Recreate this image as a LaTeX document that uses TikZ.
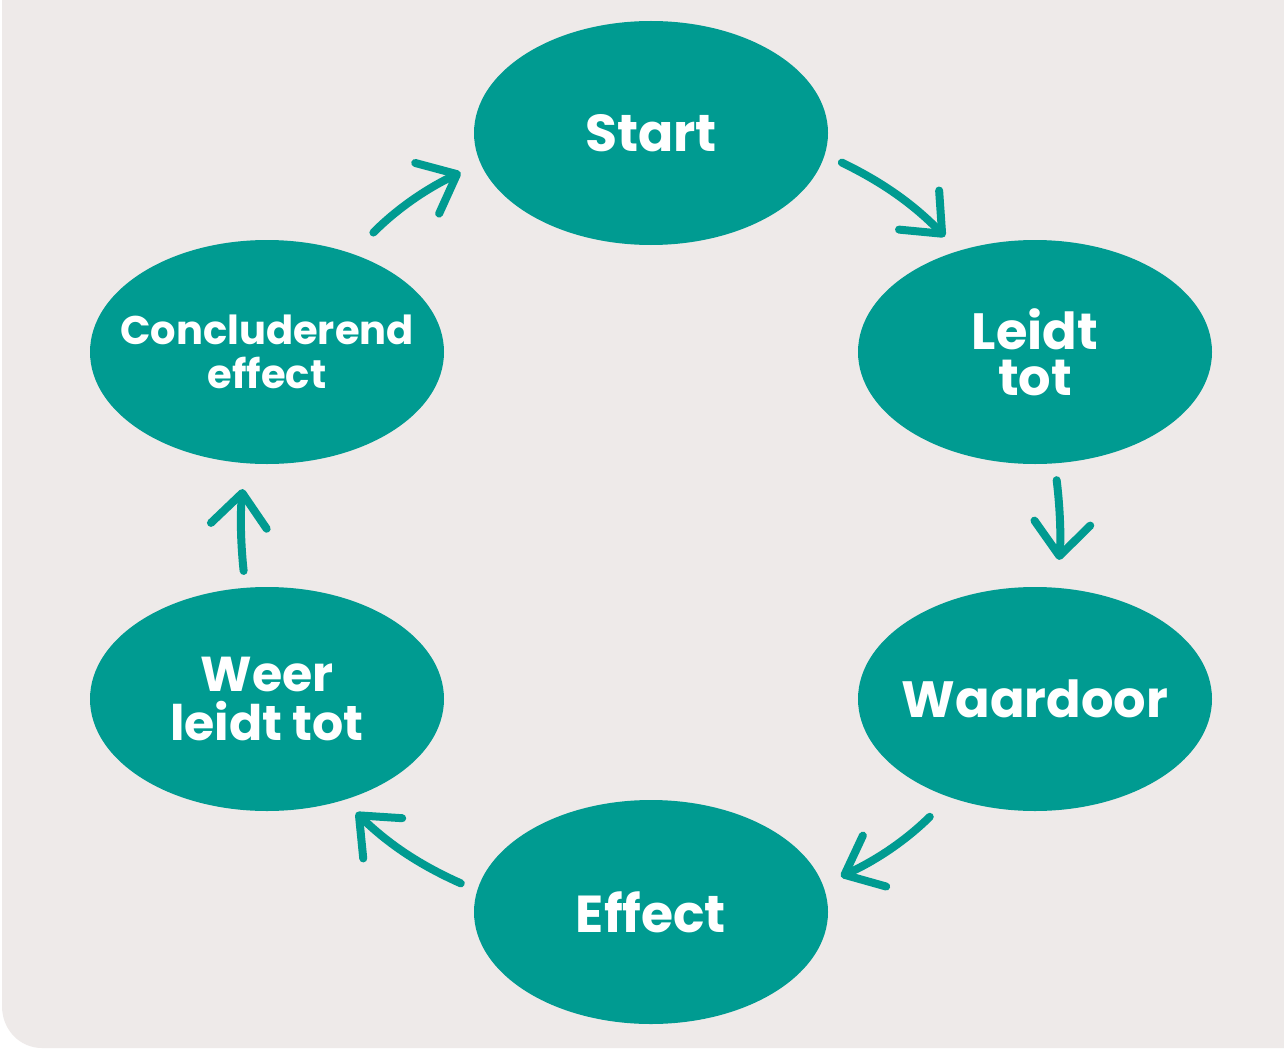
\documentclass[tikz,border=0pt]{standalone}
\usepackage{xcolor}
\usepackage{fontspec}
\setmainfont{Poppins}
\usepackage{tikz}
\usetikzlibrary{shapes,arrows.meta,positioning}

\definecolor{tealc}{HTML}{009B91}
\definecolor{paper}{HTML}{EEEAE9}

\tikzset{
  stage/.style={ellipse, fill=tealc, minimum width=354pt, minimum height=224pt,
    inner xsep=-60pt, inner ysep=0pt, outer sep=0pt, text=white, align=center, font=\bfseries},
  flow/.style={draw=tealc, line width=8pt, line cap=round,
    -{Straight Barb[length=33pt,width=56pt,line cap=round,line join=round]}}
}

\begin{document}
\begin{tikzpicture}[x=1pt,y=-1pt]
\useasboundingbox (0,0) rectangle (1284,1051);
% background card
\fill[white] (0,0) rectangle (1284,1051);
\fill[paper] (2,0) -- (1284,0) -- (1284,1048) -- (42,1048)
  .. controls (20,1048) and (2,1030) .. (2,1006) -- cycle;

% cycle stages
\node[stage, font=\bfseries\fontsize{52}{50}\selectfont] (start) at (651,133) {Start};
\node[stage, font=\bfseries\fontsize{51}{46}\selectfont] (leidt) at (1035,352) {Leidt\\tot};
\node[stage, font=\bfseries\fontsize{51}{48}\selectfont] (waar) at (1035,699) {Waardoor};
\node[stage, font=\bfseries\fontsize{52}{50}\selectfont] (effect) at (651,912) {Effect};
\node[stage, font=\bfseries\fontsize{49}{49}\selectfont] (weer) at (267,699) {Weer\\leidt tot};
\node[stage, font=\bfseries\fontsize{40}{44}\selectfont] (concl) at (267,352) {Concluderend\\effect};

% arrows
\draw[flow, shorten <=30pt, shorten >=22pt] (concl.49) to[bend left=10] (start.190);
\draw[flow, shorten <=19pt, shorten >=20pt] (start.353) to[bend left=10] (leidt.127);
\draw[flow, shorten <=17pt, shorten >=28pt] (leidt.280) to[bend left=6] (waar.79);
\draw[flow, shorten <=28pt, shorten >=20pt] (waar.229) to[bend left=10] (effect.9);
\draw[flow, shorten <=18pt, shorten >=18pt] (effect.173) to[bend left=10] (weer.307);
\draw[flow, shorten <=17pt, shorten >=26pt] (weer.101) to[bend left=6] (concl.259);
\end{tikzpicture}
\end{document}
